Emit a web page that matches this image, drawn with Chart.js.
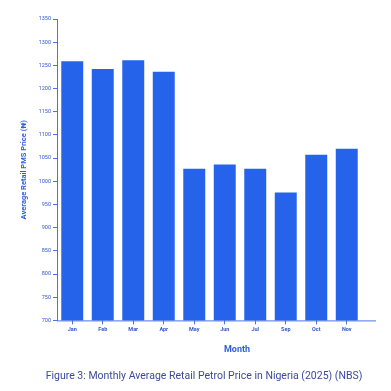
<!DOCTYPE html>
<html>
<head>
<meta charset="utf-8">
<script src="https://cdn.jsdelivr.net/npm/chart.js@4"></script>
<style>
  body { margin: 0; background: #fff; font-family: Roboto, sans-serif; }
  #wrap { position: relative; width: 391px; height: 391px; }
  #month { position: absolute; left: 0; width: 474px; top: 344px; text-align: center; font-weight: bold; font-size: 9px; color: #2f5fd6; }
  #caption { position: absolute; left: 0; width: 408px; top: 369px; text-align: center; font-size: 10.5px; color: #3b4a9c; }
</style>
</head>
<body>
<div id="wrap">
  <canvas id="chart" width="391" height="391"></canvas>
  <div id="month">Month</div>
  <div id="caption">Figure 3: Monthly Average Retail Petrol Price in Nigeria (2025) (NBS)</div>
</div>
<script>
const months = ['Jan', 'Feb', 'Mar', 'Apr', 'May', 'Jun', 'Jul', 'Sep', 'Oct', 'Nov'];
const prices = [1259, 1242, 1261, 1236, 1027, 1036, 1027, 976, 1057, 1070];

const axisBlue = '#4a76de';
const textBlue = '#3358d0';

// x axis line in the reference runs a bit past the last bar
let longAxis = {
    id: 'longAxis',
    afterDraw(chart) {
        let ctx = chart.ctx, a = chart.chartArea;
        ctx.save();
        ctx.strokeStyle = axisBlue;
        ctx.lineWidth = 1;
        ctx.beginPath();
        ctx.moveTo(a.left, a.bottom + 0.5);
        ctx.lineTo(a.right + 14, a.bottom + 0.5);
        ctx.stroke();
        ctx.restore();
    }
};

new Chart(document.getElementById('chart').getContext('2d'), {
    type: 'bar',
    data: {
        labels: months,
        datasets: [{
            data: prices,
            backgroundColor: '#2563eb',
            barPercentage: 0.72,
            categoryPercentage: 1
        }]
    },
    options: {
        responsive: false,
        animation: false,
        layout: { padding: { top: 19, right: 29, bottom: 56, left: 20 } },
        plugins: { legend: { display: false }, tooltip: { enabled: false } },
        scales: {
            x: {
                grid: { display: true, drawOnChartArea: false, offset: false, tickLength: 4, color: axisBlue },
                border: { display: false },
                ticks: { color: textBlue, font: { family: 'Roboto', size: 5.5, weight: 'bold' }, padding: 2, maxRotation: 0 }
            },
            y: {
                min: 700,
                max: 1350,
                afterFit(scale) { scale.width = 37; },
                grid: { display: true, drawOnChartArea: false, tickLength: 4, color: axisBlue },
                border: { color: axisBlue, width: 1 },
                ticks: {
                    stepSize: 50,
                    color: textBlue,
                    font: { family: 'Roboto', size: 5.5 },
                    padding: 2,
                    callback: v => String(v)
                },
                title: {
                    display: true,
                    text: 'Average Retail PMS Price (₦)',
                    color: '#2f5fd6',
                    font: { family: 'Roboto', size: 7.5, weight: 'bold' },
                    padding: 0
                }
            }
        }
    },
    plugins: [longAxis]
});
</script>
</body>
</html>
